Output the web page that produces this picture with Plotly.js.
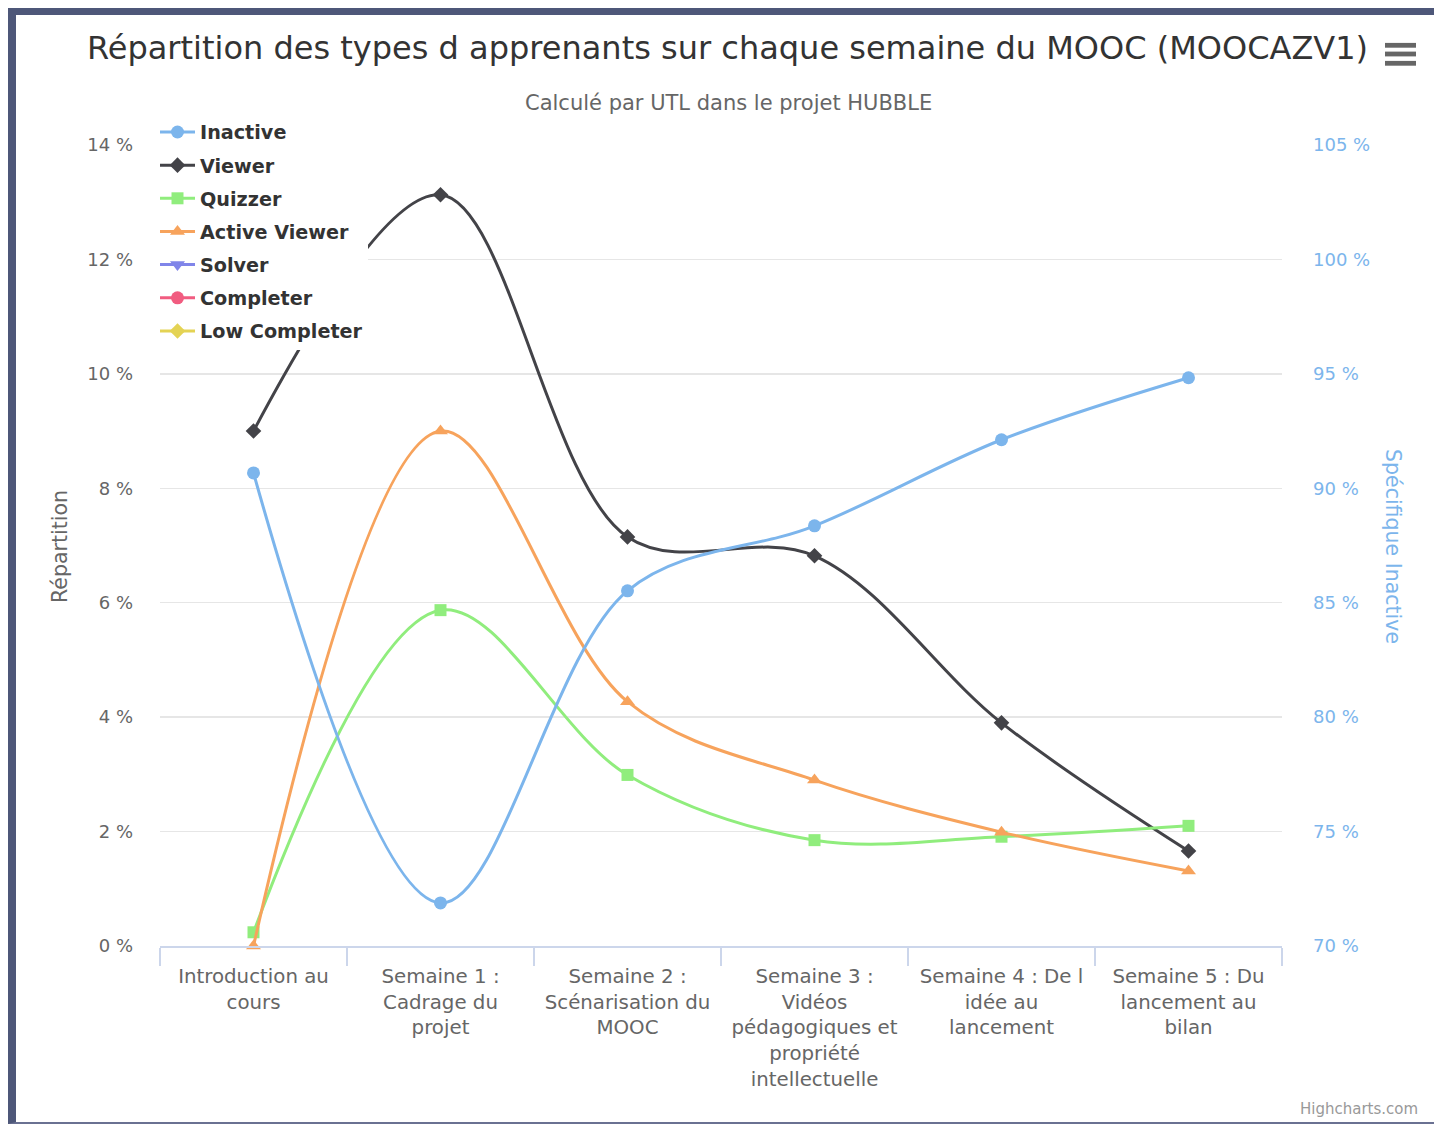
<!DOCTYPE html>
<html>
<head>
<meta charset="utf-8">
<script src="https://cdn.plot.ly/plotly-3.0.1.min.js"></script>
<style>
  html, body { margin: 0; padding: 0; background: #ffffff; }
  #chart { position: absolute; left: 0; top: 0; width: 1434px; height: 1126px; }
  #frame { position: absolute; left: 8px; top: 8px; width: 1426px; height: 1116px;
           box-sizing: border-box; border-top: 7px solid #4e5779; border-left: 8px solid #4e5779;
           border-bottom: 2px solid #6a7192; pointer-events: none; }
</style>
</head>
<body>
<div id="chart"></div>
<div id="frame"></div>
<script>
// ---- Data ----
const categories = [
  "Introduction au cours",
  "Semaine 1 : Cadrage du projet",
  "Semaine 2 : Scénarisation du MOOC",
  "Semaine 3 : Vidéos pédagogiques et propriété intellectuelle",
  "Semaine 4 : De l idée au lancement",
  "Semaine 5 : Du lancement au bilan"
];
const tickLabels = [
  "Introduction au<br>cours",
  "Semaine 1 :<br>Cadrage du<br>projet",
  "Semaine 2 :<br>Scénarisation du<br>MOOC",
  "Semaine 3 :<br>Vidéos<br>pédagogiques et<br>propriété<br>intellectuelle",
  "Semaine 4 : De l<br>idée au<br>lancement",
  "Semaine 5 : Du<br>lancement au<br>bilan"
];
const inactive     = [90.67, 71.88, 85.52, 88.36, 92.12, 94.83];   // right axis (Spécifique Inactive)
const viewer       = [9.00, 13.13, 7.15, 6.82, 3.90, 1.66];
const quizzer      = [0.24, 5.87, 2.99, 1.85, 1.91, 2.10];
const activeViewer = [0.00, 9.00, 4.27, 2.90, 1.99, 1.31];
const solver       = [null, null, null, null, null, null];
const completer    = [null, null, null, null, null, null];
const lowCompleter = [null, null, null, null, null, null];

// ---- Layout helpers (pixel -> paper) ----
const W = 1434, H = 1126;
const PL = 160, PR = 1282, PT = 145, PB = 946;
const px = x => (x - PL) / (PR - PL);
const py = y => (PB - y) / (PB - PT);

const FONT = "DejaVu Sans";

function series(name, y, color, symbol, size, axis) {
  return {
    type: "scatter", mode: "lines+markers", name: name, legendgroup: name,
    x: categories, y: y, yaxis: axis || "y",
    line: { color: color, width: 3, shape: "spline", smoothing: 1 },
    marker: { color: color, symbol: symbol, size: size },
    connectgaps: false, cliponaxis: false
  };
}

const traces = [
  series("Inactive", inactive, "#7cb5ec", "circle", 13, "y2"),
  series("Viewer", viewer, "#434348", "diamond", 12),
  series("Quizzer", quizzer, "#90ed7d", "square", 12),
  series("Active Viewer", activeViewer, "#f7a35c", "triangle-up", 13),
  series("Solver", solver, "#8085e9", "triangle-down", 13),
  series("Completer", completer, "#f15c80", "circle", 13),
  series("Low Completer", lowCompleter, "#e4d354", "diamond", 12)
];

const barY = [45.3, 54, 63.3];
const shapes = barY.map(c => ({
  type: "rect", xref: "paper", yref: "paper",
  x0: px(1385), x1: px(1416), y0: py(c + 2.4), y1: py(c - 2.4),
  fillcolor: "#666666", line: { width: 0 }
}));

const layout = {
  width: W, height: H,
  margin: { l: PL, r: W - PR, t: PT, b: H - PB, pad: 0 },
  paper_bgcolor: "#ffffff", plot_bgcolor: "#ffffff",
  font: { family: FONT, color: "#666666" },
  showlegend: true,
  title: {
    text: "Répartition des types d apprenants sur chaque semaine du MOOC (MOOCAZV1)",
    font: { family: FONT, size: 32, color: "#333333" },
    xref: "container", yref: "container",
    x: 727.5 / W, xanchor: "center", y: 1 - 48 / H, yanchor: "middle"
  },
  xaxis: {
    type: "category", range: [-0.5, 5.5],
    tickmode: "array", tickvals: categories, ticktext: tickLabels,
    ticks: "outside", tickson: "boundaries", ticklen: 18, tickwidth: 1.5, tickcolor: "#ccd6eb",
    ticklabelstandoff: 11,
    showline: true, linecolor: "#ccd6eb", linewidth: 2,
    showgrid: false, zeroline: false, fixedrange: true,
    tickfont: { family: FONT, size: 19.8, color: "#666666" }
  },
  yaxis: {
    range: [0, 14], dtick: 2, tick0: 0, ticksuffix: " %",
    showgrid: true, gridcolor: "#e6e6e6", gridwidth: 1.5,
    zeroline: false, showline: false, ticks: "", ticklabelstandoff: 26,
    tickfont: { family: FONT, size: 18, color: "#666666" }
  },
  yaxis2: {
    overlaying: "y", side: "right",
    range: [70, 105], dtick: 5, tick0: 70, ticksuffix: " %",
    showgrid: false, zeroline: false, showline: false, ticks: "", ticklabelstandoff: 30,
    tickfont: { family: FONT, size: 18, color: "#7cb5ec" }
  },
  legend: {
    x: px(155), xanchor: "left", y: py(113), yanchor: "top",
    bgcolor: "#ffffff", borderwidth: 0,
    traceorder: "grouped", tracegroupgap: 5.2, itemwidth: 35,
    font: { family: FONT, size: 19.2, color: "#333333", weight: "bold" },
    itemclick: false, itemdoubleclick: false
  },
  annotations: [
    { text: "Calculé par UTL dans le projet HUBBLE", xref: "paper", yref: "paper",
      x: px(728), y: py(103), xanchor: "center", yanchor: "middle", showarrow: false,
      font: { family: FONT, size: 21, color: "#666666" } },
    { text: "Répartition", xref: "paper", yref: "paper",
      x: px(60), y: py(547), xanchor: "center", yanchor: "middle", textangle: -90, showarrow: false,
      font: { family: FONT, size: 20.5, color: "#666666" } },
    { text: "Spécifique Inactive", xref: "paper", yref: "paper",
      x: px(1393), y: py(546), xanchor: "center", yanchor: "middle", textangle: 90, showarrow: false,
      font: { family: FONT, size: 20.5, color: "#7cb5ec" } },
    { text: "Highcharts.com", xref: "paper", yref: "paper",
      x: px(1420), y: py(1109), xanchor: "right", yanchor: "middle", showarrow: false,
      font: { family: FONT, size: 15, color: "#999999" } }
  ],
  shapes: shapes
};

Plotly.newPlot("chart", traces, layout, { displayModeBar: false, staticPlot: true });
</script>
</body>
</html>
